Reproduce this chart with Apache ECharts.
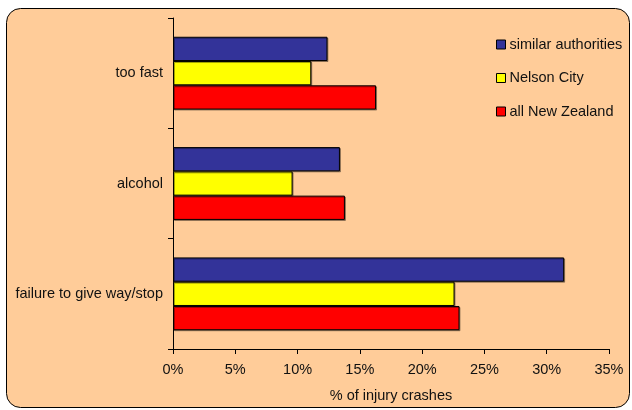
<!DOCTYPE html>
<html><head><meta charset="utf-8">
<script src="https://cdn.jsdelivr.net/npm/echarts@6/dist/echarts.min.js"></script>
<style>html,body{margin:0;padding:0;background:#fff;}#c{width:632px;height:410px;}</style>
</head><body><div id="c"></div>
<script>
const categories = ['failure to give way/stop', 'alcohol', 'too fast'];
const similarAuthorities = [31.4, 13.4, 12.4];
const nelsonCity = [22.6, 9.6, 11.1];
const allNewZealand = [23.0, 13.8, 16.3];
const xTicks = [0, 5, 10, 15, 20, 25, 30, 35];

const chart = echarts.init(document.getElementById('c'));
const font = 'Liberation Sans, Arial, sans-serif';
const fs = 14.5;
const itemStyleBase = {borderColor: '#000', borderWidth: 1, shadowColor: 'rgba(0,0,0,0.35)', shadowOffsetX: 1, shadowOffsetY: 1, shadowBlur: 0};
chart.setOption({
  animation: false,
  graphic: [{type: 'rect', z: -10, shape: {x: 6.5, y: 8.5, width: 623, height: 399, r: 14}, style: {fill: '#FFCC99', stroke: '#000', lineWidth: 1}}],
  textStyle: {fontFamily: font},
  legend: {
    orient: 'vertical', left: 491, top: 31, itemGap: 16.5, itemWidth: 9, itemHeight: 9,
    icon: 'rect',
    data: ['similar authorities', 'Nelson City', 'all New Zealand'],
    textStyle: {fontFamily: font, fontSize: fs, lineHeight: 17, color: '#111', padding: [0, 0, 0, -1]},
    itemStyle: {borderColor: '#000', borderWidth: 1}
  },
  grid: {left: 173, right: 23, top: 18, bottom: 61, containLabel: false},
  xAxis: {
    type: 'value', min: 0, max: 35, interval: 5,
    name: '% of injury crashes', nameLocation: 'middle', nameGap: 39,
    nameTextStyle: {fontFamily: font, fontSize: fs, color: '#111'},
    axisLine: {show: true, lineStyle: {color: '#000', width: 1}},
    axisTick: {show: true, length: 5, lineStyle: {color: '#000'}},
    axisLabel: {formatter: v => v + '%', fontFamily: font, fontSize: fs, color: '#111', margin: 13},
    splitLine: {show: false}
  },
  yAxis: {
    type: 'category', data: categories,
    axisLine: {show: true, lineStyle: {color: '#000', width: 1}},
    axisTick: {show: true, length: 5, lineStyle: {color: '#000'}},
    axisLabel: {fontFamily: font, fontSize: fs, color: '#111', margin: 10}
  },
  series: [
    {name: 'similar authorities', type: 'bar', data: similarAuthorities, barGap: '0%', barCategoryGap: '34%', itemStyle: Object.assign({color: '#333399'}, itemStyleBase)},
    {name: 'Nelson City', type: 'bar', data: nelsonCity, barGap: '0%', barCategoryGap: '34%', itemStyle: Object.assign({color: '#FFFF00'}, itemStyleBase)},
    {name: 'all New Zealand', type: 'bar', data: allNewZealand, barGap: '0%', barCategoryGap: '34%', itemStyle: Object.assign({color: '#FF0000'}, itemStyleBase)}
  ]
});
</script></body></html>
